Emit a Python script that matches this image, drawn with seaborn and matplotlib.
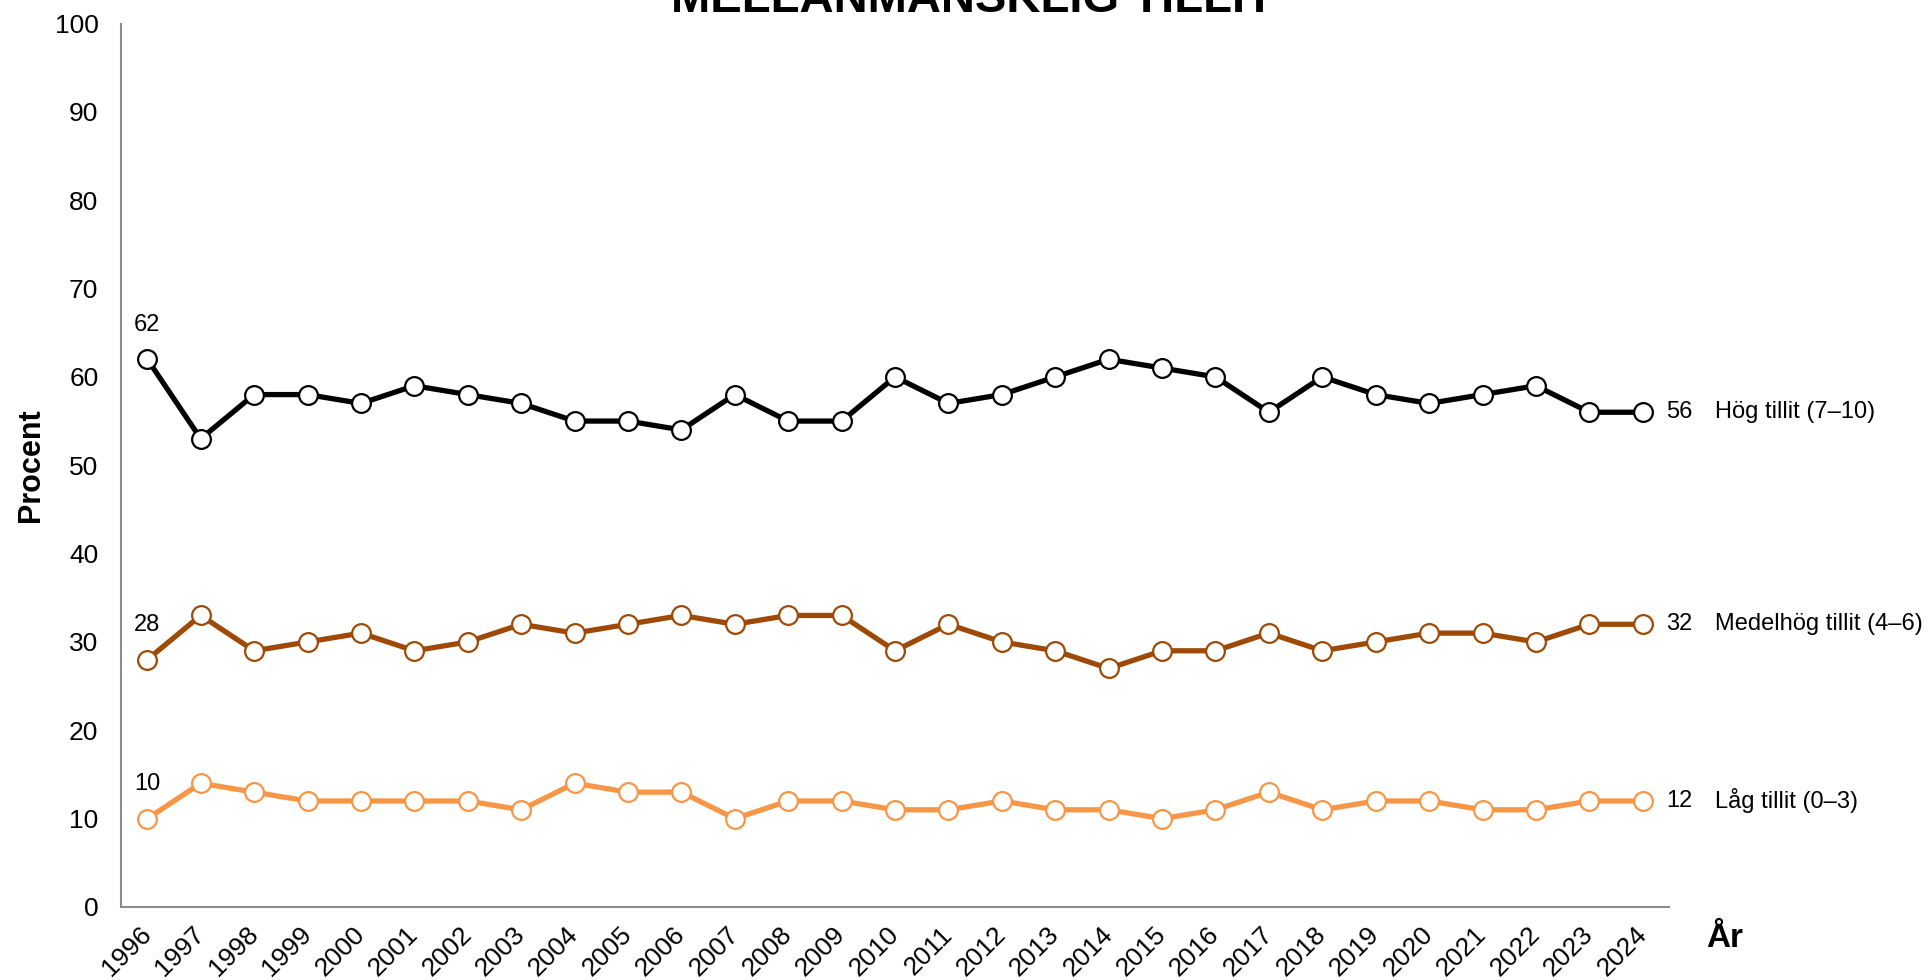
import matplotlib
matplotlib.use('Agg')
import matplotlib.pyplot as plt
import seaborn as sns
import pandas as pd

# Data
years = list(range(1996, 2025))
hog = [62, 53, 58, 58, 57, 59, 58, 57, 55, 55, 54, 58, 55, 55, 60, 57, 58, 60, 62, 61, 60, 56, 60, 58, 57, 58, 59, 56, 56]
medel = [28, 33, 29, 30, 31, 29, 30, 32, 31, 32, 33, 32, 33, 33, 29, 32, 30, 29, 27, 29, 29, 31, 29, 30, 31, 31, 30, 32, 32]
lag = [10, 14, 13, 12, 12, 12, 12, 11, 14, 13, 13, 10, 12, 12, 11, 11, 12, 11, 11, 10, 11, 13, 11, 12, 12, 11, 11, 12, 12]
series_names = ['Hög tillit (7–10)', 'Medelhög tillit (4–6)', 'Låg tillit (0–3)']
colors = ['#000000', '#9E4A06', '#F79646']

df = pd.DataFrame({'År': years, series_names[0]: hog, series_names[1]: medel, series_names[2]: lag})
df_melt = pd.melt(df, id_vars=['År'], value_vars=series_names, var_name='Tillit', value_name='Procent')

sns.set_style('white')
plt.rcParams['font.family'] = ['Liberation Sans', 'DejaVu Sans']
plt.rcParams['text.color'] = 'black'
plt.rcParams['xtick.color'] = 'black'
plt.rcParams['ytick.color'] = 'black'
plt.rcParams['axes.labelcolor'] = 'black'

fig = plt.figure(figsize=(19.3, 9.8), dpi=100)
ax = fig.add_axes([0.0625, 0.0745, 0.8025, 0.9015])

for name, col in zip(series_names, colors):
    sub = df_melt[df_melt['Tillit'] == name]
    sns.lineplot(data=sub, x='År', y='Procent', ax=ax, color=col, linewidth=3.8,
                 marker='o', markersize=13.5, markerfacecolor='white',
                 markeredgecolor=col, markeredgewidth=1.6, zorder=3)

    # first value above the first point
    ax.annotate(str(sub['Procent'].iloc[0]), (years[0], sub['Procent'].iloc[0]),
                xytext=(0, 25), textcoords='offset points', ha='center', va='center',
                fontsize=17)
    # last value + series name to the right
    last = sub['Procent'].iloc[-1]
    ax.annotate(str(last), (years[-1], last), xytext=(17, 0), textcoords='offset points',
                ha='left', va='center', fontsize=17, annotation_clip=False)
    ax.annotate(name, (years[-1], last), xytext=(52, 0), textcoords='offset points',
                ha='left', va='center', fontsize=17, annotation_clip=False)

ax.set_xlim(years[0] - 0.5, years[-1] + 0.5)
ax.set_ylim(0, 100)
ax.set_yticks(range(0, 101, 10))
ax.set_xticks(years)
ax.set_xticks([y - 0.5 for y in years] + [years[-1] + 0.5], minor=True)
ax.set_xticklabels([str(y) for y in years], rotation=45, ha='right', va='center',
                   rotation_mode='anchor', fontsize=19)
ax.tick_params(axis='x', which='major', length=0, pad=17)
ax.tick_params(axis='x', which='minor', length=5, width=1.5, color='#8c8c8c', direction='out')
ax.tick_params(axis='y', length=6, width=1.5, color='#8c8c8c', direction='out', labelsize=19, pad=10)

ax.set_xlabel('')
ax.set_ylabel('Procent', fontsize=22, fontweight='bold', labelpad=6)

sns.despine(ax=ax)
for s in ['left', 'bottom']:
    ax.spines[s].set_color('#8c8c8c')
    ax.spines[s].set_linewidth(1.5)

fig.text(0.884, 0.042, 'År', fontsize=24, fontweight='bold', ha='left', va='center')
fig.text(0.504, 0.988, 'MELLANMÄNSKLIG TILLIT', fontsize=34, fontweight='bold',
         ha='center', va='baseline')

plt.savefig('out.png', dpi=100)
